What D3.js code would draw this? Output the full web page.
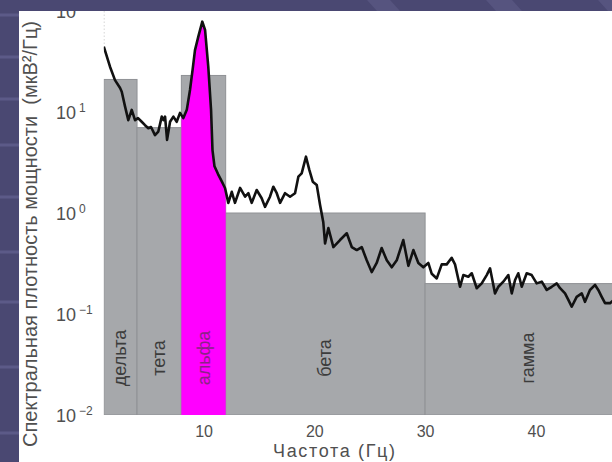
<!DOCTYPE html>
<html>
<head>
<meta charset="utf-8">
<script src="https://cdn.jsdelivr.net/npm/d3@7"></script>
<style>
  html, body { margin: 0; padding: 0; background: #4a4872; }
  svg { display: block; }
  text { font-family: "Liberation Sans", Arial, sans-serif; }
</style>
</head>
<body>
<svg id="chart" width="612" height="462"></svg>
<script>
// EEG power spectral density, Hz
const freqs = [
  1.00,1.56,2.01,2.47,2.62,2.92,3.21,3.52,3.82,4.09,
  4.42,4.72,5.02,5.26,5.62,5.92,6.23,6.39,6.53,6.71,
  6.98,7.28,7.58,7.88,8.18,8.49,8.78,9.01,9.23,9.53,
  9.89,10.14,10.43,10.68,10.81,10.99,11.31,11.67,11.94,12.24,
  12.55,12.84,13.30,13.75,14.05,14.35,14.80,15.25,15.55,16.00,
  16.30,16.61,16.91,17.36,17.81,18.26,18.56,18.86,19.25,19.55,
  19.86,20.22,20.52,20.81,20.97,21.27,21.72,22.32,22.93,23.38,
  23.83,24.28,24.73,25.18,25.63,26.08,26.54,26.99,27.44,28.03,
  28.49,28.94,29.39,29.84,30.29,30.60,31.05,31.50,31.95,32.40,
  32.70,33.15,33.45,33.90,34.21,34.66,35.11,35.56,35.86,36.31,
  36.61,37.06,37.51,37.82,38.12,38.41,38.72,39.17,39.62,40.07,
  40.53,40.98,41.43,41.88,42.18,42.63,42.93,43.23,43.68,44.14,
  44.43,44.88,45.34,45.63,45.94,46.24,46.69,47.05
];
// PSD, мкВ²/Гц
const psd = [
  44.3,28.1,20.7,17.3,15.9,11.3,8.3,10.5,8.3,8.7,
  8.0,7.4,6.9,7.1,5.9,6.4,9.0,8.3,9.0,5.3,
  8.0,9.0,8.0,9.8,8.7,10.5,16.5,26,41,55.7,
  78.4,64.9,28.1,10.5,4.2,2.9,2.43,2.03,1.77,1.26,
  1.62,1.26,1.77,1.45,1.57,1.26,1.69,1.40,1.15,1.45,
  1.82,1.57,1.26,1.57,1.45,1.57,2.29,2.47,3.61,2.67,
  2.04,1.89,1.20,0.81,0.50,0.71,0.46,0.54,0.63,0.46,
  0.43,0.46,0.34,0.26,0.32,0.45,0.34,0.29,0.34,0.54,
  0.30,0.43,0.32,0.29,0.32,0.25,0.225,0.31,0.31,0.36,
  0.31,0.186,0.243,0.234,0.253,0.180,0.201,0.243,0.283,0.160,
  0.186,0.209,0.243,0.160,0.217,0.253,0.186,0.253,0.243,0.201,
  0.209,0.173,0.186,0.201,0.180,0.160,0.138,0.118,0.148,0.160,
  0.132,0.173,0.194,0.173,0.148,0.128,0.128,0.138
];

// Frequency bands and their mean power
const bandNames = ["дельта", "тета", "альфа", "бета", "гамма"];
const bandStart = [1, 4, 8, 12, 30];
const bandEnd   = [4, 8, 12, 30, 48.5];
const bandPower = [21, 7, 23, 1.0, 0.2];

const xTicks = [10, 20, 30, 40];
const yTicks = [0.01, 0.1, 1, 10, 100];
const yExponents = ["−2", "−1", "0", "1", "2"];

const xTitle = "Частота (Гц)";
const yTitle = "Спектральная плотность мощности  (мкВ²/Гц)";

const svg = d3.select("#chart");
const W = 612, H = 462;

const x = d3.scaleLinear().domain([1, 47.5]).range([103.8, 619]);
const y = d3.scaleLog().domain([0.01, 100]).range([415, 11]);

const points = freqs.map((f, i) => ({ f, v: psd[i] }));
const bands = bandNames.map((name, i) => ({
  name, start: bandStart[i], end: bandEnd[i], power: bandPower[i]
}));

// slide background and white panel
svg.append("rect").attr("width", W).attr("height", H).attr("fill", "#4a4872");
svg.append("rect").attr("x", 19).attr("y", 11).attr("width", W - 19).attr("height", H - 11).attr("fill", "#ffffff");

const defs = svg.append("defs");
defs.append("clipPath").attr("id", "plotClip")
  .append("rect").attr("x", x(1)).attr("y", 0).attr("width", W - x(1)).attr("height", y(0.01));
defs.append("clipPath").attr("id", "alphaClip")
  .append("rect").attr("x", x(8)).attr("y", 0).attr("width", x(12) - x(8)).attr("height", y(0.01));

const plot = svg.append("g").attr("clip-path", "url(#plotClip)");

// band bars
plot.selectAll("rect.band").data(bands).join("rect")
  .attr("class", "band")
  .attr("x", d => x(d.start))
  .attr("y", d => y(d.power))
  .attr("width", d => x(d.end) - x(d.start))
  .attr("height", d => y(0.01) - y(d.power))
  .attr("fill", "#a6a8ab")
  .attr("stroke", "#8f9195")
  .attr("stroke-width", 1);

// alpha band filled under the spectrum
const area = d3.area().x(d => x(d.f)).y0(y(0.01)).y1(d => y(d.v));
plot.append("path").datum(points)
  .attr("clip-path", "url(#alphaClip)")
  .attr("d", area)
  .attr("fill", "#ff00ff");

// dotted guide above the first sample
plot.append("line")
  .attr("x1", x(freqs[0])).attr("x2", x(freqs[0]))
  .attr("y1", y(100)).attr("y2", y(psd[0]))
  .attr("stroke", "#b5b5b5").attr("stroke-width", 1.2)
  .attr("stroke-dasharray", "1.5,2");

// spectrum line
const line = d3.line().x(d => x(d.f)).y(d => y(d.v));
plot.append("path").datum(points)
  .attr("d", line)
  .attr("fill", "none")
  .attr("stroke", "#111111")
  .attr("stroke-width", 2.6)
  .attr("stroke-linejoin", "round");

// band names
plot.selectAll("text.bandName").data(bands).join("text")
  .attr("class", "bandName")
  .attr("transform", d => `translate(${(x(d.start) + x(d.end)) / 2},${y(0.01) - 57}) rotate(-90)`)
  .attr("text-anchor", "middle")
  .attr("dominant-baseline", "central")
  .attr("font-size", 18)
  .attr("fill", d => d.name === "альфа" ? "#8a2486" : "#3c3c3c")
  .text(d => d.name);

// x axis
const gx = svg.append("g").attr("transform", `translate(0,${y(0.01)})`)
  .call(d3.axisBottom(x).tickValues(xTicks).tickSize(0));
gx.select(".domain").remove();
gx.selectAll("text")
  .attr("y", 22).attr("dy", null)
  .attr("font-size", 16)
  .attr("fill", "#505050")
  .style("font-family", "'Liberation Sans', Arial, sans-serif");

// y axis with power-of-ten labels
const gy = svg.append("g").attr("transform", "translate(56,0)")
  .call(d3.axisLeft(y).tickValues(yTicks).tickSize(0).tickFormat(() => ""));
gy.select(".domain").remove();
gy.selectAll("text").each(function (d) {
  const t = d3.select(this)
    .attr("x", 0).attr("dy", "0.36em")
    .attr("text-anchor", "start")
    .attr("font-size", 18)
    .attr("fill", "#505050")
    .style("font-family", "'Liberation Sans', Arial, sans-serif");
  t.text("10");
  t.append("tspan")
    .attr("dx", 3).attr("dy", "-0.55em")
    .attr("font-size", 12)
    .text(yExponents[yTicks.indexOf(d)]);
});

// axis titles
svg.append("text")
  .attr("x", 334).attr("y", 457)
  .attr("text-anchor", "middle")
  .attr("font-size", 18)
  .attr("textLength", 122)
  .attr("lengthAdjust", "spacing")
  .attr("fill", "#505050")
  .text(xTitle);

svg.append("text")
  .attr("transform", "translate(37,447) rotate(-90)")
  .attr("text-anchor", "start")
  .attr("font-size", 20)
  .attr("fill", "#505050")
  .style("white-space", "pre")
  .text(yTitle);

// slide frame drawn over the panel edges
const frame = svg.append("g");
frame.append("rect").attr("x", 0).attr("y", 0).attr("width", W).attr("height", 11).attr("fill", "#4a4872");
frame.append("rect").attr("x", 0).attr("y", 0).attr("width", 19).attr("height", H).attr("fill", "#4a4872");
[[367, 390], [486, 512], [598, 625]].forEach(([a, b]) => {
  frame.append("path")
    .attr("d", `M${a},0 L${b},0 L${b + 10},11 L${a + 10},11 Z`)
    .attr("fill", "#56547f");
});
[15, 57, 99, 145, 197, 252, 302, 367, 433].forEach(v => {
  frame.append("rect").attr("x", 0).attr("y", v - 1.5).attr("width", 19).attr("height", 3)
    .attr("fill", "#5c5a88");
});
</script>
</body>
</html>
